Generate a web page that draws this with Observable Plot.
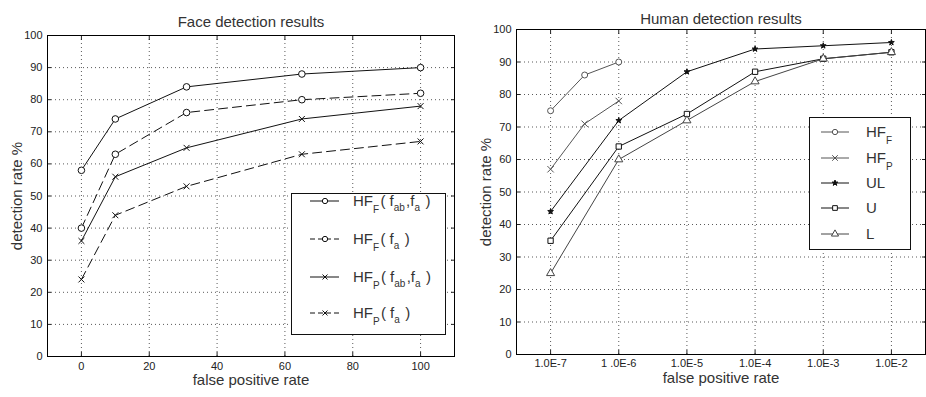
<!DOCTYPE html>
<html><head><meta charset="utf-8">
<script src="https://cdn.jsdelivr.net/npm/d3@7"></script>
<script src="https://cdn.jsdelivr.net/npm/@observablehq/plot@0.6"></script>
<style>
body{margin:0;background:#fff;}
#wrap{position:relative;width:926px;height:397px;display:flex;font-family:"Liberation Sans",Arial,sans-serif;}
#overlay{position:absolute;left:0;top:0;pointer-events:none;}
</style></head><body>
<div id="wrap"></div>
<script>
// ---- Face detection data ----
const faceX = [0, 10, 31, 65, 100];
const hfF_fab = [58, 74, 84, 88, 90];
const hfF_fa = [40, 63, 76, 80, 82];
const hfP_fab = [36, 56, 65, 74, 78];
const hfP_fa = [24, 44, 53, 63, 67];
const faceXTicks = [0, 20, 40, 60, 80, 100];
const yTicks = [0, 10, 20, 30, 40, 50, 60, 70, 80, 90, 100];

// ---- Human detection data ----
const humanXShort = [1e-7, 3.162e-7, 1e-6];
const humanX = [1e-7, 1e-6, 1e-5, 1e-4, 1e-3, 1e-2];
const hF = [75, 86, 90];
const hP = [57, 71, 78];
const ul = [44, 72, 87, 94, 95, 96];
const u = [35, 64, 74, 87, 91, 93];
const l = [25, 60, 72, 84, 91, 93];
const humanXLabels = ["1.0E-7", "1 .0E-6", "1.0E-5", "1.0E-4", "1.0E-3", "1.0E-2"];

const toPts = (xs, ys) => xs.map((x, i) => ({x, y: ys[i]}));

const faceSeries = [
  {key: "F_fab", data: toPts(faceX, hfF_fab), symbol: "circle", dash: null},
  {key: "F_fa", data: toPts(faceX, hfF_fa), symbol: "circle", dash: "9,5"},
  {key: "P_fab", data: toPts(faceX, hfP_fab), symbol: "times", dash: null},
  {key: "P_fa", data: toPts(faceX, hfP_fa), symbol: "times", dash: "9,5"}
];
const humanSeries = [
  {key: "HF_F", data: toPts(humanXShort, hF), symbol: "circle", color: "#555", fill: "white"},
  {key: "HF_P", data: toPts(humanXShort, hP), symbol: "times", color: "#555", fill: "none"},
  {key: "UL", data: toPts(humanX, ul), symbol: "star", color: "#111", fill: "#111"},
  {key: "U", data: toPts(humanX, u), symbol: "square", color: "#111", fill: "white"},
  {key: "L", data: toPts(humanX, l), symbol: "triangle", color: "#444", fill: "white"}
];

const font = "Liberation Sans, Arial, sans-serif";
const grid = {stroke: "#000", strokeOpacity: 0.65, strokeDasharray: "1,3", strokeWidth: 1};

function common(xTicks, title, titleDy, xLabelDy) {
  return [
    Plot.gridX({ticks: xTicks, ...grid}),
    Plot.gridY({ticks: yTicks.slice(1, -1), ...grid}),
    Plot.axisY({ticks: yTicks, tickSize: 0, tickPadding: 5, label: null, fontSize: 11}),
    Plot.axisY({ticks: yTicks, anchor: "left", tickSize: -4, tickPadding: 0, tickFormat: () => "", label: null}),
    Plot.axisY({ticks: yTicks, anchor: "right", tickSize: -4, tickPadding: 0, tickFormat: () => "", label: null}),
    Plot.axisX({ticks: xTicks, anchor: "top", tickSize: -4, tickPadding: 0, tickFormat: () => "", label: null}),
    Plot.frame({stroke: "#000", strokeWidth: 1}),
    Plot.text([title], {frameAnchor: "top", lineAnchor: "middle", textAnchor: "middle", dy: titleDy, text: d => d, fontSize: 15, fill: "#333"}),
    Plot.text(["detection rate %"], {frameAnchor: "left", lineAnchor: "middle", textAnchor: "middle", rotate: -90, dx: -30, text: d => d, fontSize: 15, fill: "#333"}),
    Plot.text(["false positive rate"], {frameAnchor: "bottom", lineAnchor: "middle", textAnchor: "middle", dy: xLabelDy, text: d => d, fontSize: 15, fill: "#333"})
  ];
}

const face = Plot.plot({
  width: 463, height: 397,
  marginLeft: 47, marginRight: 9, marginTop: 35, marginBottom: 41,
  style: {fontFamily: font, fontSize: "11px", background: "#fff", color: "#222"},
  x: {domain: [-10, 110], label: null},
  y: {domain: [0, 100], label: null},
  marks: [
    ...common(faceXTicks, "Face detection results", -13, 24),
    Plot.axisX({ticks: faceXTicks, tickSize: 0, tickPadding: 6, label: null, fontSize: 11}),
    Plot.axisX({ticks: faceXTicks, anchor: "bottom", tickSize: -4, tickPadding: 0, tickFormat: () => "", label: null}),
    ...faceSeries.map(s => Plot.line(s.data, {x: "x", y: "y", stroke: "#111", strokeWidth: 1, strokeDasharray: s.dash})),
    ...faceSeries.map(s => Plot.dot(s.data, {x: "x", y: "y", symbol: s.symbol, r: s.symbol === "circle" ? 3.3 : 2.8, stroke: "#111", fill: s.symbol === "circle" ? "white" : "none", strokeWidth: 1}))
  ]
});

const human = Plot.plot({
  width: 463, height: 397,
  marginLeft: 53, marginRight: 1, marginTop: 29, marginBottom: 43,
  style: {fontFamily: font, fontSize: "11px", background: "#fff", color: "#222"},
  x: {type: "log", domain: [Math.pow(10, -7.5), Math.pow(10, -1.5)], label: null},
  y: {domain: [0, 100], label: null},
  marks: [
    ...common(humanX, "Human detection results", -10, 24),
    Plot.axisX({ticks: humanX, tickSize: 0, tickPadding: 5, label: null, fontSize: 11, tickFormat: d => humanXLabels[humanX.findIndex(v => Math.abs(Math.log10(v) - Math.log10(d)) < 1e-6)]}),
    Plot.axisX({ticks: humanX, anchor: "bottom", tickSize: -4, tickPadding: 0, tickFormat: () => "", label: null}),
    ...humanSeries.map(s => Plot.line(s.data, {x: "x", y: "y", stroke: s.color, strokeWidth: 1})),
    ...humanSeries.map(s => Plot.dot(s.data, {x: "x", y: "y", symbol: s.symbol, r: s.symbol === "star" ? 1.8 : 3, stroke: s.color, fill: s.fill, strokeWidth: 1}))
  ]
});

const wrap = document.getElementById("wrap");
wrap.appendChild(face);
wrap.appendChild(human);

// ---- Legends (overlay) ----
const ov = d3.select(wrap).append("svg").attr("id", "overlay").attr("width", 926).attr("height", 397)
  .style("font-family", font);

function marker(g, symbol, x, y, stroke, fill, size) {
  const map = {circle: d3.symbolCircle, times: d3.symbolTimes, star: d3.symbolStar, square: d3.symbolSquare, triangle: d3.symbolTriangle};
  g.append("path").attr("d", d3.symbol(map[symbol], size)()).attr("transform", `translate(${x},${y})`)
    .attr("stroke", stroke).attr("fill", fill).attr("stroke-width", 1);
}
function sub(t, s, dyDown) {
  t.append("tspan").attr("font-size", 10).attr("dy", dyDown).text(s);
  t.append("tspan").attr("dy", -dyDown).text("\u200A");
}

// Left legend
ov.append("rect").attr("x", 291.5).attr("y", 193.5).attr("width", 154).attr("height", 141)
  .attr("fill", "white").attr("stroke", "#111");
const leftRows = [
  {y: 201, dash: null, symbol: "circle", argSubs: [["f", "ab"], ["f", "a"]], main: "F"},
  {y: 239, dash: "5,3", symbol: "circle", argSubs: [["f", "a"]], main: "F"},
  {y: 277, dash: null, symbol: "times", argSubs: [["f", "ab"], ["f", "a"]], main: "P"},
  {y: 313, dash: "5,3", symbol: "times", argSubs: [["f", "a"]], main: "P"}
];
leftRows.forEach(r => {
  ov.append("line").attr("x1", 310).attr("x2", 339).attr("y1", r.y).attr("y2", r.y)
    .attr("stroke", "#111").attr("stroke-dasharray", r.dash);
  marker(ov, r.symbol, 325, r.y, "#111", r.symbol === "circle" ? "white" : "none", r.symbol === "circle" ? 22 : 18);
  const t = ov.append("text").attr("x", 353).attr("y", r.y + 5).attr("font-size", 15).attr("fill", "#333");
  t.append("tspan").text("HF");
  sub(t, r.main, 7);
  t.append("tspan").text("( ");
  r.argSubs.forEach((a, i) => {
    t.append("tspan").text(a[0]);
    sub(t, a[1], 5);
    if (i < r.argSubs.length - 1) t.append("tspan").text(",");
  });
  t.append("tspan").text(" )");
});

// Right legend
ov.append("rect").attr("x", 809.5).attr("y", 117.5).attr("width", 101).attr("height", 132)
  .attr("fill", "white").attr("stroke", "#111");
const rightRows = [
  {y: 132, s: humanSeries[0], main: "HF", subt: "F"},
  {y: 158, s: humanSeries[1], main: "HF", subt: "P"},
  {y: 183, s: humanSeries[2], main: "UL", subt: null},
  {y: 208, s: humanSeries[3], main: "U", subt: null},
  {y: 234, s: humanSeries[4], main: "L", subt: null}
];
rightRows.forEach(r => {
  ov.append("line").attr("x1", 821).attr("x2", 849).attr("y1", r.y).attr("y2", r.y).attr("stroke", r.s.color);
  marker(ov, r.s.symbol, 835, r.y, r.s.color, r.s.fill, r.s.symbol === "star" ? 10 : 22);
  const t = ov.append("text").attr("x", 866).attr("y", r.y + 5).attr("font-size", 15).attr("fill", "#333");
  t.append("tspan").text(r.main);
  if (r.subt) sub(t, r.subt, 7);
});
</script>
</body></html>
